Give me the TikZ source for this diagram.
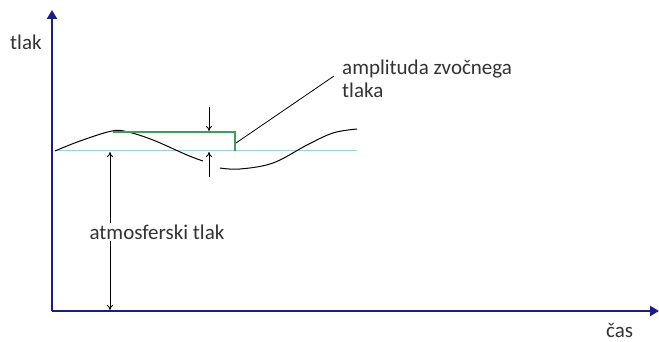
\documentclass[tikz,border=0pt]{standalone}
\usepackage{fontspec}
\setmainfont{Carlito}
\usetikzlibrary{arrows.meta}
\definecolor{axisblue}{RGB}{28,28,135}
\definecolor{baseblue}{RGB}{150,210,225}
\definecolor{ampgreen}{RGB}{60,160,90}
\tikzset{
  axisline/.style={draw=axisblue, line width=2.2pt, -{Triangle[length=9pt,width=10pt]}},
  dimarrow/.style={draw=black, line width=0.8pt, -{To[length=5pt,width=6pt]}},
  lbl/.style={font=\fontsize{21}{23}\selectfont, text=black!80, inner sep=1pt},
  wave/.style={draw=black, line width=1pt}
}
\begin{document}
\begin{tikzpicture}[x=1pt,y=-1pt]
  \useasboundingbox (0,0) rectangle (659,342);
  \fill[white] (0,0) rectangle (659,342);

  % axes
  \coordinate (origin) at (52,311);
  \coordinate (ytip) at (52,10);
  \coordinate (xtip) at (659,311);
  \draw[axisline] (origin) -- (ytip);
  \draw[axisline] (origin) -- (xtip);
  \node[lbl, anchor=west] (ylabel) at (9,42) {tlak};
  \node[lbl, anchor=west] (xlabel) at (605,330) {čas};

  % atmospheric pressure level
  \coordinate (b0) at (55,151);
  \coordinate (b1) at (357,151);
  \draw[baseblue, line width=1pt] (b0) -- (b1);

  % pressure wave
  \draw[wave] plot[smooth, tension=0.6] coordinates
    {(55,151) (80,141) (112,131) (128,132) (153,140) (187,155) (203,161)};
  \draw[wave] plot[smooth, tension=0.6] coordinates
    {(220,168) (240,169) (273,163) (307,145) (333,133) (357,129)};

  % amplitude bracket
  \coordinate (g0) at (113,132);
  \coordinate (g1) at (235,132);
  \coordinate (g2) at (235,151);
  \draw[ampgreen, line width=1.1pt] (g0) -- (g1) -- (g2);

  % amplitude marks
  \coordinate (ad0) at (209,107);
  \coordinate (ad1) at (209,131);
  \coordinate (au0) at (209,177);
  \coordinate (au1) at (209,152);
  \draw[dimarrow] (ad0) -- (ad1);
  \draw[dimarrow] (au0) -- (au1);

  % amplitude label and leader
  \node[lbl, anchor=north west, align=left] (amp) at (341,59)
    {amplituda zvočnega\\tlaka};
  \coordinate (lead0) at (236,143);
  \coordinate (lead1) at (334,76);
  \draw[black, line width=0.8pt] (lead0) -- (lead1);

  % atmospheric pressure dimension
  \node[lbl] (atm) at (157,232) {atmosferski tlak};
  \coordinate (atop) at (110,152);
  \coordinate (abot) at (110,310);
  \draw[dimarrow] (atm.north -| atop) -- (atop);
  \draw[dimarrow] (atm.south -| abot) -- (abot);
\end{tikzpicture}
\end{document}
